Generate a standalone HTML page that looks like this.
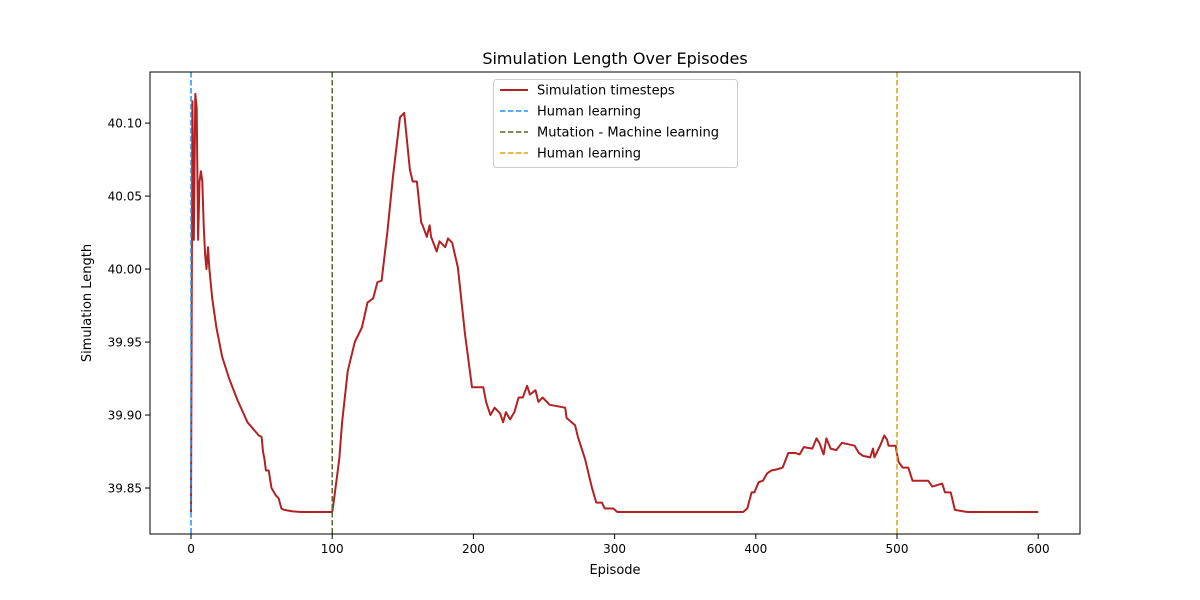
<!DOCTYPE html>
<html><head><meta charset="utf-8"><style>
body{margin:0;background:#fff}
svg{display:block;font-family:"DejaVu Sans","Liberation Sans",sans-serif}
</style></head><body>
<svg id="c" width="1200" height="600"></svg>
<script>
const episodes=[0,1,2,3,4,5,6,7,8,9,10,11,12,13,15,18,22,27,33,40,48,50,51,52,53,55,57,60,62,64,66,72,78,100,101,105,107,111,116,121,125,129,132,135,139,143,148,151,155,157,160,163,164,167,169,170,174,176,180,182,185,189,194,199,202,207,209,212,215,219,221,223,226,229,232,235,238,240,244,246,249,254,265,266,272,274,279,284,287,291,293,299,302,391,394,397,399,402,405,408,411,416,419,423,428,431,434,440,443,445,448,450,453,457,461,470,473,476,481,483,484,488,491,493,494,499,501,504,508,511,522,525,532,534,538,541,547,550,600];
const lengths=[39.8336,40.115,40.02,40.12,40.11,40.02,40.06,40.067,40.06,40.03,40.01,40.0,40.015,40.0,39.98,39.96,39.94,39.925,39.91,39.895,39.886,39.885,39.875,39.87,39.862,39.862,39.85,39.845,39.843,39.836,39.835,39.834,39.8336,39.8336,39.84,39.87,39.895,39.93,39.95,39.96,39.977,39.98,39.991,39.992,40.025,40.063,40.104,40.107,40.068,40.06,40.06,40.032,40.03,40.022,40.03,40.022,40.012,40.019,40.015,40.021,40.018,40.001,39.956,39.919,39.919,39.919,39.909,39.90,39.905,39.901,39.895,39.902,39.897,39.902,39.912,39.912,39.92,39.914,39.917,39.909,39.912,39.907,39.905,39.898,39.893,39.885,39.87,39.85,39.84,39.84,39.836,39.836,39.8336,39.8336,39.836,39.847,39.847,39.854,39.855,39.86,39.862,39.863,39.864,39.874,39.874,39.873,39.878,39.877,39.884,39.881,39.873,39.884,39.877,39.876,39.881,39.879,39.874,39.872,39.871,39.877,39.871,39.879,39.886,39.883,39.879,39.879,39.868,39.864,39.864,39.855,39.855,39.851,39.853,39.847,39.847,39.835,39.834,39.8336,39.8336];
const xTicks=[0,100,200,300,400,500,600];
const yTicks=[39.85,39.90,39.95,40.00,40.05,40.10];
const vlineX=[0,100,500];
const vlineColors=["#1e90ff","#556b2f","#daa520"];
const legendLabels=["Simulation timesteps","Human learning","Mutation - Machine learning","Human learning"];

const L=150,R=1080,T=72,B=534;
const xmin=-29.05,xmax=629.6,ymin=39.8185,ymax=40.135;
const X=v=>L+(v-xmin)/(xmax-xmin)*(R-L);
const Y=v=>B-(v-ymin)/(ymax-ymin)*(B-T);
const svg=document.getElementById('c');
const NS='http://www.w3.org/2000/svg';
function mk(tag,attrs,parent){const e=document.createElementNS(NS,tag);for(const k in attrs)e.setAttribute(k,attrs[k]);(parent||svg).appendChild(e);return e;}

let t=mk('text',{x:615,y:64,'text-anchor':'middle','font-size':16,fill:'#000'});t.textContent='Simulation Length Over Episodes';



const ax=mk('g',{});


xTicks.forEach(v=>{const x=X(v);mk('line',{x1:x,x2:x,y1:B,y2:B+5,stroke:'#000'},ax);const tt=mk('text',{x:x,y:B+19,'text-anchor':'middle','font-size':12},ax);tt.textContent=v;});
t=mk('text',{x:615,y:574,'text-anchor':'middle','font-size':13});t.textContent='Episode';



const ay=mk('g',{});


yTicks.forEach(v=>{const y=Y(v);mk('line',{x1:L-5,x2:L,y1:y,y2:y,stroke:'#000'},ay);const tt=mk('text',{x:L-8,y:y+4.5,'text-anchor':'end','font-size':12},ay);tt.textContent=v.toFixed(2);});
t=mk('text',{x:91,y:303,'text-anchor':'middle','font-size':13,transform:'rotate(-90 91 303)'});t.textContent='Simulation Length';



const pts=episodes.map((e,i)=>X(e).toFixed(1)+','+Y(lengths[i]).toFixed(1)).join(' ');
const pl=mk('polyline',{points:pts,fill:'none',stroke:'#b22222','stroke-width':2,'stroke-linejoin':'round'});



vlineX.forEach((v,i)=>{const l=mk('line',{x1:X(v),x2:X(v),y1:T,y2:B,stroke:vlineColors[i],'stroke-width':1.5,'stroke-dasharray':'5.5,2.5'});

});

const fr=mk('rect',{x:L,y:T,width:R-L,height:B-T,fill:'none',stroke:'#000','stroke-width':1});



const lg=mk('g',{});


mk('rect',{x:493.5,y:79.5,width:244,height:88,rx:3,fill:'#fff','fill-opacity':0.8,stroke:'#ccc'},lg);
const lc=["#b22222"].concat(vlineColors);
legendLabels.forEach((s,i)=>{const y=90+i*21;
const g=mk('g',{},lg);


mk('line',{x1:500,x2:528,y1:y,y2:y,stroke:lc[i],'stroke-width':i?1.5:2,'stroke-dasharray':i?'5.5,2.5':'none'},g);
const tt=mk('text',{x:537,y:y+4.5,'font-size':13},g);tt.textContent=s;});
</script>
</body></html>
